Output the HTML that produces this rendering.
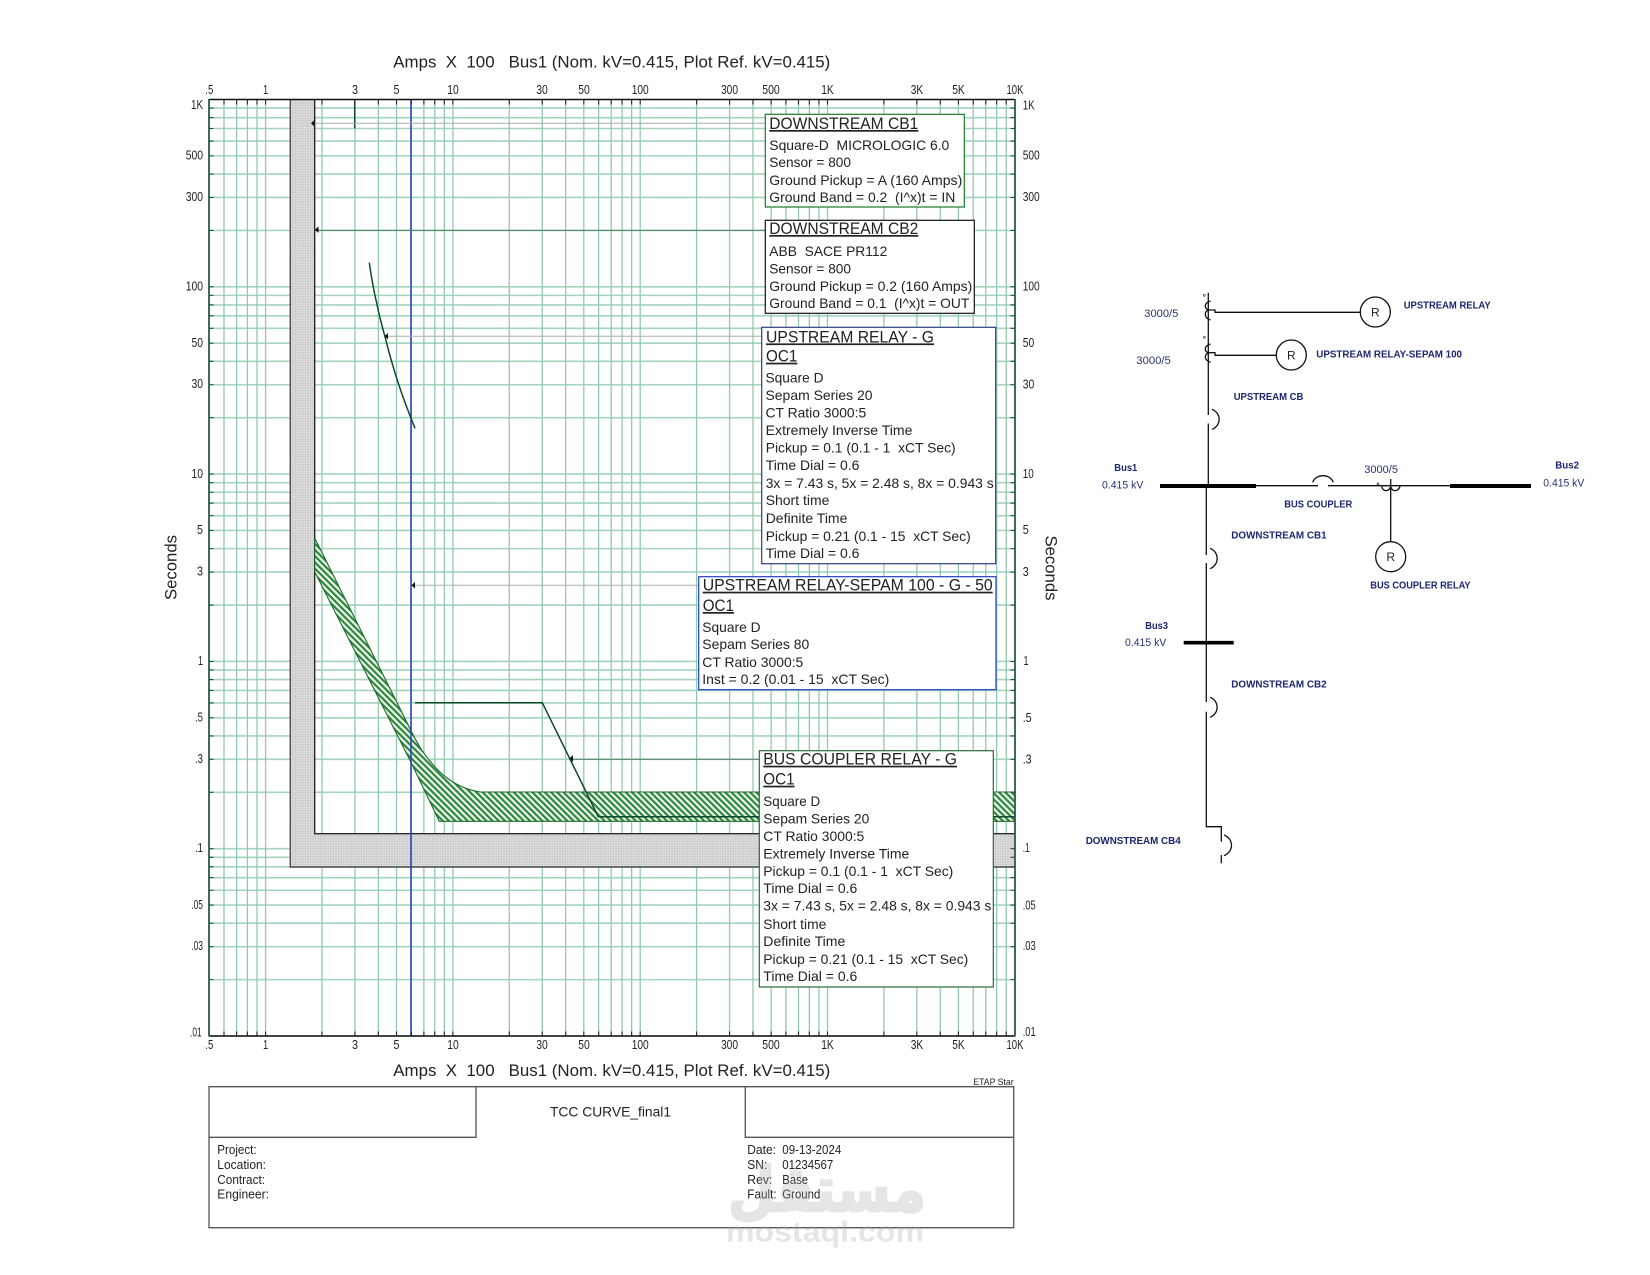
<!DOCTYPE html>
<html lang="en"><head><meta charset="utf-8"><title>TCC Curve</title>
<style>
html,body{margin:0;padding:0;background:#fff}
svg{display:block}
text{font-family:"Liberation Sans",Arial,sans-serif;fill:#222;white-space:pre}
.b{font-size:14px}
.t{font-size:17px;text-decoration:underline}
.h{font-size:17px}
.a{font-size:12.5px}
.am{font-size:12.5px;text-anchor:middle}
.ae{font-size:12.5px;text-anchor:end}
.s{font-size:12.5px}
.n{font-size:10.5px;font-weight:bold;fill:#1c2670}
.r{font-size:11px;fill:#2a3273}
</style></head><body>
<svg width="1650" height="1275" viewBox="0 0 1650 1275" xmlns="http://www.w3.org/2000/svg">
<defs>
<pattern id="gh" width="3.6" height="3.6" patternUnits="userSpaceOnUse" patternTransform="rotate(45)"><rect width="3.6" height="3.6" fill="#dfdfdf"/><rect width="1.8" height="1.8" fill="#c9c9c9"/><rect x="1.8" y="1.8" width="1.8" height="1.8" fill="#c9c9c9"/></pattern>
<pattern id="ht" width="4.4" height="4.4" patternUnits="userSpaceOnUse" patternTransform="rotate(-45)"><rect width="4.4" height="4.4" fill="#e9f4e9"/><rect width="2.1" height="4.4" fill="#2a8439"/></pattern>
<clipPath id="cv"><rect x="205" y="99" width="815" height="5.5"/><rect x="205" y="1031.5" width="815" height="5"/></clipPath>
<clipPath id="ch"><rect x="209" y="95" width="4.5" height="945"/><rect x="1010.5" y="95" width="4.5" height="945"/></clipPath>
<path id="vd" fill="none" d="M0 0V936.5M56.38 0V936.5M89.36 0V936.5M112.77 0V936.5M130.92 0V936.5M145.74 0V936.5M158.29 0V936.5M169.15 0V936.5M178.73 0V936.5"/>
<path id="hd" fill="none" d="M0 0H806M0 -56.38H806M0 -89.36H806M0 -112.77H806M0 -130.92H806M0 -145.74H806M0 -158.29H806M0 -169.15H806M0 -178.73H806"/>
<g id="vg">
<path fill="none" d="M224 99.5V1036M236.6 99.5V1036M247.4 99.5V1036M257 99.5V1036"/>
<use href="#vd" transform="translate(265.6,99.5)"/>
<use href="#vd" transform="translate(452.9,99.5)"/>
<use href="#vd" transform="translate(640.2,99.5)"/>
<use href="#vd" transform="translate(827.5,99.5)"/>
</g>
<g id="hg">
<use href="#hd" transform="translate(209,286.8)"/>
<use href="#hd" transform="translate(209,474.1)"/>
<use href="#hd" transform="translate(209,661.4)"/>
<use href="#hd" transform="translate(209,848.7)"/>
<use href="#hd" transform="translate(209,1036)"/>
</g>
</defs>
<rect width="1650" height="1275" fill="#fff"/>

<text class="h" x="393.3" y="67.3" textLength="437" lengthAdjust="spacingAndGlyphs">Amps  X  100   Bus1 (Nom. kV=0.415, Plot Ref. kV=0.415)</text>
<text class="h" x="393.3" y="1076" textLength="437" lengthAdjust="spacingAndGlyphs">Amps  X  100   Bus1 (Nom. kV=0.415, Plot Ref. kV=0.415)</text>

<!-- grid -->
<use href="#hg" stroke="#a3d4be" stroke-width="1.6"/>
<use href="#vg" stroke="#93c9b0" stroke-width="1.3"/>

<!-- ground band -->
<path d="M290.3 99.5H314.7V833.7H1015V867H290.3Z" fill="url(#gh)"/>
<path d="M290.3 99.5V867H1015" fill="none" stroke="#4a4a4a" stroke-width="1.4"/>
<path d="M314.7 99.5V833.7H1015" fill="none" stroke="#2a2a2a" stroke-width="1.4"/>

<!-- relay band -->
<path d="M314.7 538L410.7 730C418 745 424 755 436 768C448 781 462 789 480 792H1015V821.3H439.3L410.7 761.7L314.7 571.7Z" fill="url(#ht)" stroke="#1d6a2a" stroke-width="1.1"/>

<!-- blue line -->
<path d="M411 99.5V1036" stroke="#2a46c0" stroke-width="1.6" fill="none"/>

<!-- curves -->
<path d="M354.7 100V128.3" stroke="#0f4a2a" stroke-width="1.5" fill="none"/>
<path d="M369.3 262.7C371.5 278 374 292 376.7 303C379 315 382 326 385 336.7C388.5 351 392.5 365 396.7 378.3C402 395 408 411 415 428.3" stroke="#0f4a2a" stroke-width="1.5" fill="none"/>
<path d="M415 702.7H542.3L598.3 816.7H1015" stroke="#0f4a2a" stroke-width="1.5" fill="none"/>

<!-- leaders -->
<path d="M315 123.3H770" stroke="#a9a9a9" stroke-width="1" fill="none"/>
<path d="M316 230.4H770" stroke="#4f7d62" stroke-width="1" fill="none"/>
<path d="M386 336.2H765" stroke="#adadad" stroke-width="1" fill="none"/>
<path d="M412 585.3H700" stroke="#adadad" stroke-width="1" fill="none"/>
<path d="M571 759.3H762" stroke="#4f7d62" stroke-width="1" fill="none"/>
<path d="M311 123.3L314.5 120V126.6Z" fill="#111"/>
<path d="M315 229.7L318.5 226.4V233Z" fill="#111"/>
<path d="M384.5 336.2L388 333V339.4Z" fill="#111"/>
<path d="M411.5 585.3L415 582V588.6Z" fill="#111"/>
<path d="M569.5 758.5L573 755V762Z" fill="#111"/>

<!-- boxes -->
<rect x="765.3" y="114.3" width="199" height="92.7" fill="#fff" stroke="#1c7a2a" stroke-width="1.2"/>
<rect x="765.3" y="220.3" width="209" height="93" fill="#fff" stroke="#111" stroke-width="1.2"/>
<rect x="761.7" y="327.3" width="234" height="236.4" fill="#fff" stroke="#2b3f80" stroke-width="1.2"/>
<rect x="698.7" y="576.7" width="297.3" height="113" fill="#fff" stroke="#2040c0" stroke-width="1.2"/>
<rect x="759.3" y="750.7" width="234" height="236.3" fill="#fff" stroke="#2a6a3a" stroke-width="1.2"/>

<!-- axes -->
<use href="#vg" stroke="#2b2b2b" stroke-width="1.1" clip-path="url(#cv)"/>
<use href="#hg" stroke="#2b4a3c" stroke-width="1.1" clip-path="url(#ch)"/>
<path d="M209 99.5H1015M209 1036H1015" stroke="#111" stroke-width="1.4" fill="none"/>
<path d="M209 99V1036.5M1015 99V1036.5" stroke="#2e5a48" stroke-width="1.8" fill="none"/>

<!-- top x labels -->
<g>
<text class="am" x="209.3" y="94" textLength="8" lengthAdjust="spacingAndGlyphs">.5</text>
<text class="am" x="265.6" y="94" textLength="5" lengthAdjust="spacingAndGlyphs">1</text>
<text class="am" x="355" y="94" textLength="6" lengthAdjust="spacingAndGlyphs">3</text>
<text class="am" x="396.5" y="94" textLength="6" lengthAdjust="spacingAndGlyphs">5</text>
<text class="am" x="453" y="94" textLength="11.5" lengthAdjust="spacingAndGlyphs">10</text>
<text class="am" x="542" y="94" textLength="11.5" lengthAdjust="spacingAndGlyphs">30</text>
<text class="am" x="584" y="94" textLength="11.5" lengthAdjust="spacingAndGlyphs">50</text>
<text class="am" x="640.2" y="94" textLength="17" lengthAdjust="spacingAndGlyphs">100</text>
<text class="am" x="729.5" y="94" textLength="17" lengthAdjust="spacingAndGlyphs">300</text>
<text class="am" x="771" y="94" textLength="17.5" lengthAdjust="spacingAndGlyphs">500</text>
<text class="am" x="827.5" y="94" textLength="12.5" lengthAdjust="spacingAndGlyphs">1K</text>
<text class="am" x="917" y="94" textLength="12.5" lengthAdjust="spacingAndGlyphs">3K</text>
<text class="am" x="958.5" y="94" textLength="12.5" lengthAdjust="spacingAndGlyphs">5K</text>
<text class="am" x="1015" y="94" textLength="17" lengthAdjust="spacingAndGlyphs">10K</text>
</g>
<!-- bottom x labels -->
<g>
<text class="am" x="209.3" y="1049" textLength="8" lengthAdjust="spacingAndGlyphs">.5</text>
<text class="am" x="265.6" y="1049" textLength="5" lengthAdjust="spacingAndGlyphs">1</text>
<text class="am" x="355" y="1049" textLength="6" lengthAdjust="spacingAndGlyphs">3</text>
<text class="am" x="396.5" y="1049" textLength="6" lengthAdjust="spacingAndGlyphs">5</text>
<text class="am" x="453" y="1049" textLength="11.5" lengthAdjust="spacingAndGlyphs">10</text>
<text class="am" x="542" y="1049" textLength="11.5" lengthAdjust="spacingAndGlyphs">30</text>
<text class="am" x="584" y="1049" textLength="11.5" lengthAdjust="spacingAndGlyphs">50</text>
<text class="am" x="640.2" y="1049" textLength="17" lengthAdjust="spacingAndGlyphs">100</text>
<text class="am" x="729.5" y="1049" textLength="17" lengthAdjust="spacingAndGlyphs">300</text>
<text class="am" x="771" y="1049" textLength="17.5" lengthAdjust="spacingAndGlyphs">500</text>
<text class="am" x="827.5" y="1049" textLength="12.5" lengthAdjust="spacingAndGlyphs">1K</text>
<text class="am" x="917" y="1049" textLength="12.5" lengthAdjust="spacingAndGlyphs">3K</text>
<text class="am" x="958.5" y="1049" textLength="12.5" lengthAdjust="spacingAndGlyphs">5K</text>
<text class="am" x="1015" y="1049" textLength="17" lengthAdjust="spacingAndGlyphs">10K</text>
</g>
<!-- left y labels -->
<g>
<text class="ae" x="203" y="109" textLength="12" lengthAdjust="spacingAndGlyphs">1K</text>
<text class="ae" x="203" y="159.4" textLength="17.3" lengthAdjust="spacingAndGlyphs">500</text>
<text class="ae" x="203" y="201" textLength="17.3" lengthAdjust="spacingAndGlyphs">300</text>
<text class="ae" x="203" y="290.3" textLength="17.3" lengthAdjust="spacingAndGlyphs">100</text>
<text class="ae" x="203" y="347" textLength="11.5" lengthAdjust="spacingAndGlyphs">50</text>
<text class="ae" x="203" y="388.2" textLength="11.5" lengthAdjust="spacingAndGlyphs">30</text>
<text class="ae" x="203" y="477.8" textLength="11.5" lengthAdjust="spacingAndGlyphs">10</text>
<text class="ae" x="203" y="534" textLength="6" lengthAdjust="spacingAndGlyphs">5</text>
<text class="ae" x="203" y="575.7" textLength="6" lengthAdjust="spacingAndGlyphs">3</text>
<text class="ae" x="203" y="665" textLength="5" lengthAdjust="spacingAndGlyphs">1</text>
<text class="ae" x="203" y="721.5" textLength="8" lengthAdjust="spacingAndGlyphs">.5</text>
<text class="ae" x="203" y="763" textLength="8" lengthAdjust="spacingAndGlyphs">.3</text>
<text class="ae" x="203" y="852.2" textLength="8" lengthAdjust="spacingAndGlyphs">.1</text>
<text class="ae" x="203" y="909" textLength="11.7" lengthAdjust="spacingAndGlyphs">.05</text>
<text class="ae" x="203" y="950" textLength="11.7" lengthAdjust="spacingAndGlyphs">.03</text>
<text class="ae" x="201.7" y="1036.6" textLength="11.7" lengthAdjust="spacingAndGlyphs">.01</text>
</g>
<!-- right y labels -->
<g>
<text class="a" x="1022.7" y="109.3" textLength="12" lengthAdjust="spacingAndGlyphs">1K</text>
<text class="a" x="1022.7" y="159.4" textLength="17" lengthAdjust="spacingAndGlyphs">500</text>
<text class="a" x="1022.7" y="201.2" textLength="17" lengthAdjust="spacingAndGlyphs">300</text>
<text class="a" x="1022.7" y="290.3" textLength="17" lengthAdjust="spacingAndGlyphs">100</text>
<text class="a" x="1022.7" y="347" textLength="11.5" lengthAdjust="spacingAndGlyphs">50</text>
<text class="a" x="1022.7" y="388.3" textLength="11.5" lengthAdjust="spacingAndGlyphs">30</text>
<text class="a" x="1022.7" y="478.2" textLength="11" lengthAdjust="spacingAndGlyphs">10</text>
<text class="a" x="1022.7" y="534" textLength="6" lengthAdjust="spacingAndGlyphs">5</text>
<text class="a" x="1022.7" y="576" textLength="6" lengthAdjust="spacingAndGlyphs">3</text>
<text class="a" x="1023.5" y="665" textLength="5" lengthAdjust="spacingAndGlyphs">1</text>
<text class="a" x="1022.7" y="722" textLength="9" lengthAdjust="spacingAndGlyphs">.5</text>
<text class="a" x="1022.7" y="763.3" textLength="9" lengthAdjust="spacingAndGlyphs">.3</text>
<text class="a" x="1022.7" y="852" textLength="7" lengthAdjust="spacingAndGlyphs">.1</text>
<text class="a" x="1022.7" y="909.3" textLength="13" lengthAdjust="spacingAndGlyphs">.05</text>
<text class="a" x="1022.7" y="950" textLength="13" lengthAdjust="spacingAndGlyphs">.03</text>
<text class="a" x="1022.7" y="1036" textLength="13" lengthAdjust="spacingAndGlyphs">.01</text>
</g>
<text class="h" text-anchor="middle" transform="translate(176.5,567.5) rotate(-90)" textLength="65" lengthAdjust="spacingAndGlyphs">Seconds</text>
<text class="h" text-anchor="middle" transform="translate(1045.7,568) rotate(90)" textLength="65" lengthAdjust="spacingAndGlyphs">Seconds</text>

<!-- CB1 box -->
<text class="t" x="769.3" y="129" textLength="149" lengthAdjust="spacingAndGlyphs">DOWNSTREAM CB1</text>
<text class="b" x="769.3" y="150" textLength="180" lengthAdjust="spacingAndGlyphs">Square-D  MICROLOGIC 6.0</text>
<text class="b" x="769.3" y="167" textLength="81.7" lengthAdjust="spacingAndGlyphs">Sensor = 800</text>
<text class="b" x="769.3" y="185" textLength="193" lengthAdjust="spacingAndGlyphs">Ground Pickup = A (160 Amps)</text>
<text class="b" x="769.3" y="202" textLength="186" lengthAdjust="spacingAndGlyphs">Ground Band = 0.2  (I^x)t = IN</text>
<!-- CB2 box -->
<text class="t" x="769.3" y="234" textLength="149" lengthAdjust="spacingAndGlyphs">DOWNSTREAM CB2</text>
<text class="b" x="769.3" y="256" textLength="118" lengthAdjust="spacingAndGlyphs">ABB  SACE PR112</text>
<text class="b" x="769.3" y="273.3" textLength="81.7" lengthAdjust="spacingAndGlyphs">Sensor = 800</text>
<text class="b" x="769.3" y="291" textLength="203" lengthAdjust="spacingAndGlyphs">Ground Pickup = 0.2 (160 Amps)</text>
<text class="b" x="769.3" y="308" textLength="200" lengthAdjust="spacingAndGlyphs">Ground Band = 0.1  (I^x)t = OUT</text>
<!-- Upstream relay box -->
<text class="t" x="766" y="342.4" textLength="168" lengthAdjust="spacingAndGlyphs">UPSTREAM RELAY - G</text>
<text class="t" x="766" y="361.7" textLength="31.3" lengthAdjust="spacingAndGlyphs">OC1</text>
<text class="b" x="765.5" y="382.3" textLength="58" lengthAdjust="spacingAndGlyphs">Square D</text>
<text class="b" x="765.5" y="400" textLength="107" lengthAdjust="spacingAndGlyphs">Sepam Series 20</text>
<text class="b" x="765.5" y="417.7" textLength="100.7" lengthAdjust="spacingAndGlyphs">CT Ratio 3000:5</text>
<text class="b" x="765.7" y="435" textLength="146.7" lengthAdjust="spacingAndGlyphs">Extremely Inverse Time</text>
<text class="b" x="765.7" y="452.7" textLength="190" lengthAdjust="spacingAndGlyphs">Pickup = 0.1 (0.1 - 1  xCT Sec)</text>
<text class="b" x="765.7" y="470" textLength="93.7" lengthAdjust="spacingAndGlyphs">Time Dial = 0.6</text>
<text class="b" x="765.7" y="488" textLength="228" lengthAdjust="spacingAndGlyphs">3x = 7.43 s, 5x = 2.48 s, 8x = 0.943 s</text>
<text class="b" x="765.7" y="505" textLength="63.7" lengthAdjust="spacingAndGlyphs">Short time</text>
<text class="b" x="765.7" y="523" textLength="81.7" lengthAdjust="spacingAndGlyphs">Definite Time</text>
<text class="b" x="765.7" y="541" textLength="205" lengthAdjust="spacingAndGlyphs">Pickup = 0.21 (0.1 - 15  xCT Sec)</text>
<text class="b" x="765.7" y="558" textLength="93.7" lengthAdjust="spacingAndGlyphs">Time Dial = 0.6</text>
<!-- Sepam box -->
<text class="t" x="702.7" y="590.7" textLength="290" lengthAdjust="spacingAndGlyphs">UPSTREAM RELAY-SEPAM 100 - G - 50</text>
<text class="t" x="702.7" y="611" textLength="31.3" lengthAdjust="spacingAndGlyphs">OC1</text>
<text class="b" x="702.3" y="632" textLength="58.3" lengthAdjust="spacingAndGlyphs">Square D</text>
<text class="b" x="702.3" y="649" textLength="107" lengthAdjust="spacingAndGlyphs">Sepam Series 80</text>
<text class="b" x="702.3" y="667" textLength="101" lengthAdjust="spacingAndGlyphs">CT Ratio 3000:5</text>
<text class="b" x="702.3" y="684" textLength="187" lengthAdjust="spacingAndGlyphs">Inst = 0.2 (0.01 - 15  xCT Sec)</text>
<!-- Bus coupler box -->
<text class="t" x="763.3" y="764.7" textLength="193.7" lengthAdjust="spacingAndGlyphs">BUS COUPLER RELAY - G</text>
<text class="t" x="763.3" y="784.7" textLength="31.3" lengthAdjust="spacingAndGlyphs">OC1</text>
<text class="b" x="763.3" y="806" textLength="57" lengthAdjust="spacingAndGlyphs">Square D</text>
<text class="b" x="763.3" y="823.3" textLength="106" lengthAdjust="spacingAndGlyphs">Sepam Series 20</text>
<text class="b" x="763.3" y="841" textLength="101" lengthAdjust="spacingAndGlyphs">CT Ratio 3000:5</text>
<text class="b" x="763.3" y="858.3" textLength="146" lengthAdjust="spacingAndGlyphs">Extremely Inverse Time</text>
<text class="b" x="763.3" y="876" textLength="190" lengthAdjust="spacingAndGlyphs">Pickup = 0.1 (0.1 - 1  xCT Sec)</text>
<text class="b" x="763.3" y="893" textLength="94" lengthAdjust="spacingAndGlyphs">Time Dial = 0.6</text>
<text class="b" x="763.3" y="910.7" textLength="228" lengthAdjust="spacingAndGlyphs">3x = 7.43 s, 5x = 2.48 s, 8x = 0.943 s</text>
<text class="b" x="763.3" y="929" textLength="63" lengthAdjust="spacingAndGlyphs">Short time</text>
<text class="b" x="763.3" y="946" textLength="82" lengthAdjust="spacingAndGlyphs">Definite Time</text>
<text class="b" x="763.3" y="964" textLength="205" lengthAdjust="spacingAndGlyphs">Pickup = 0.21 (0.1 - 15  xCT Sec)</text>
<text class="b" x="763.3" y="981" textLength="94" lengthAdjust="spacingAndGlyphs">Time Dial = 0.6</text>

<!-- title block -->
<path d="M209 1086.7H1013.7V1227.7H209ZM209 1137.3H476V1086.7M745.3 1086.7V1137.3H1013.7" fill="none" stroke="#555" stroke-width="1.3"/>
<text style="font-size:9.5px" x="973.3" y="1085" textLength="40.3" lengthAdjust="spacingAndGlyphs">ETAP Star</text>
<text style="font-size:14px" x="550" y="1116.7" textLength="121" lengthAdjust="spacingAndGlyphs">TCC CURVE_final1</text>
<text class="s" x="217.3" y="1154" textLength="39.3" lengthAdjust="spacingAndGlyphs">Project:</text>
<text class="s" x="217.3" y="1169" textLength="48.7" lengthAdjust="spacingAndGlyphs">Location:</text>
<text class="s" x="217.3" y="1184" textLength="47.7" lengthAdjust="spacingAndGlyphs">Contract:</text>
<text class="s" x="217.3" y="1198.3" textLength="51.7" lengthAdjust="spacingAndGlyphs">Engineer:</text>
<text class="s" x="747.3" y="1154" textLength="28.7" lengthAdjust="spacingAndGlyphs">Date:</text>
<text class="s" x="747.3" y="1169" textLength="20" lengthAdjust="spacingAndGlyphs">SN:</text>
<text class="s" x="747.3" y="1184" textLength="25" lengthAdjust="spacingAndGlyphs">Rev:</text>
<text class="s" x="747.3" y="1198.3" textLength="29.3" lengthAdjust="spacingAndGlyphs">Fault:</text>
<text class="s" x="782.3" y="1154" textLength="59" lengthAdjust="spacingAndGlyphs">09-13-2024</text>
<text class="s" x="782.3" y="1169" textLength="51" lengthAdjust="spacingAndGlyphs">01234567</text>
<text class="s" x="782.3" y="1184" textLength="25.7" lengthAdjust="spacingAndGlyphs">Base</text>
<text class="s" x="782.3" y="1198.3" textLength="38" lengthAdjust="spacingAndGlyphs">Ground</text>

<!-- watermark -->
<g opacity=".3">
<text x="926" y="1211" direction="rtl" style="font-family:'DejaVu Sans',sans-serif;font-weight:bold;font-size:62px;fill:#aaa;stroke:#aaa;stroke-width:2.5px" textLength="198" lengthAdjust="spacingAndGlyphs">مستقل</text>
<text x="726" y="1241.7" style="font-weight:bold;font-size:29px;fill:#aaa" textLength="198" lengthAdjust="spacingAndGlyphs">mostaql.com</text>
</g>

<!-- single line diagram -->
<g fill="none" stroke="#111" stroke-width="1.3">
<path d="M1208.3 292.7V486"/>
<path d="M1206.3 486V826.7H1221.3V863.3"/>
<path d="M1256 485.7H1450"/>
<path d="M1390.7 479V542"/>
<path d="M1208.3 310H1215V312.3H1360.3"/>
<path d="M1208.3 352.7H1215V355.3H1276.3"/>
<circle cx="1375.3" cy="312" r="15"/>
<circle cx="1291.3" cy="355" r="15"/>
<circle cx="1390.7" cy="556.7" r="15"/>
<path d="M1210.5 301C1204 303 1204 308 1208.3 310C1204 312 1204 318 1210.5 320"/>
<path d="M1210.5 344C1204 346 1204 351 1208.3 353C1204 355 1204 360 1210.5 362.3"/>
<path d="M1381.7 486.5C1383 492 1389 492 1390.7 486.5C1392 492 1398 492 1400 486.5"/>
</g>
<path d="M1160 486H1256M1450 486H1531" stroke="#000" stroke-width="4" fill="none"/>
<path d="M1183.7 642.7H1233.7" stroke="#000" stroke-width="3.7" fill="none"/>
<!-- CB gaps -->
<rect x="1204" y="415" width="8" height="8.5" fill="#fff"/>
<rect x="1202" y="555" width="8" height="8" fill="#fff"/>
<rect x="1202" y="702" width="8" height="9.7" fill="#fff"/>
<rect x="1217" y="841.7" width="8" height="13.3" fill="#fff"/>
<rect x="1318" y="481" width="10" height="9" fill="#fff"/>
<g fill="none" stroke="#111" stroke-width="1.3">
<path d="M1212 409.3C1221.5 413 1221.5 425.5 1212 429.3"/>
<path d="M1210 548.3C1219.5 552 1219.5 565 1210 568.7"/>
<path d="M1210 697.3C1219.5 701 1219.5 713.5 1210 717.3"/>
<path d="M1224 835C1234 839 1234 851.5 1224 855.7"/>
<path d="M1312.7 482.3C1316 473.5 1330 473.5 1333.3 482.3"/>
</g>
<circle cx="1204.3" cy="295.3" r="1" fill="none" stroke="#333" stroke-width=".7"/>
<circle cx="1204.3" cy="337.3" r="1" fill="none" stroke="#333" stroke-width=".7"/>
<circle cx="1378" cy="484" r="1" fill="none" stroke="#333" stroke-width=".7"/>
<text style="font-size:12px" text-anchor="middle" x="1375.3" y="316.3">R</text>
<text style="font-size:12px" text-anchor="middle" x="1291.3" y="359.3">R</text>
<text style="font-size:12px" text-anchor="middle" x="1390.7" y="561">R</text>

<text class="n" x="1403.7" y="308.7" textLength="87" lengthAdjust="spacingAndGlyphs">UPSTREAM RELAY</text>
<text class="n" x="1316.3" y="357.7" textLength="145.7" lengthAdjust="spacingAndGlyphs">UPSTREAM RELAY-SEPAM 100</text>
<text class="n" x="1233.7" y="400" textLength="69.7" lengthAdjust="spacingAndGlyphs">UPSTREAM CB</text>
<text class="r" x="1144.3" y="317" textLength="34" lengthAdjust="spacingAndGlyphs">3000/5</text>
<text class="r" x="1136.3" y="364" textLength="34.5" lengthAdjust="spacingAndGlyphs">3000/5</text>
<text class="r" x="1364.3" y="473" textLength="33.7" lengthAdjust="spacingAndGlyphs">3000/5</text>
<text class="n" x="1114.3" y="471" textLength="23" lengthAdjust="spacingAndGlyphs">Bus1</text>
<text class="r" x="1102" y="488.3" textLength="41.3" lengthAdjust="spacingAndGlyphs">0.415 kV</text>
<text class="n" x="1284.3" y="507.7" textLength="68" lengthAdjust="spacingAndGlyphs">BUS COUPLER</text>
<text class="n" x="1231.3" y="538.7" textLength="95.3" lengthAdjust="spacingAndGlyphs">DOWNSTREAM CB1</text>
<text class="n" x="1370.3" y="588.7" textLength="100.3" lengthAdjust="spacingAndGlyphs">BUS COUPLER RELAY</text>
<text class="n" x="1555.3" y="468.7" textLength="23.7" lengthAdjust="spacingAndGlyphs">Bus2</text>
<text class="r" x="1543.3" y="486.7" textLength="41" lengthAdjust="spacingAndGlyphs">0.415 kV</text>
<text class="n" x="1145.3" y="629" textLength="22.7" lengthAdjust="spacingAndGlyphs">Bus3</text>
<text class="r" x="1125" y="646" textLength="41.3" lengthAdjust="spacingAndGlyphs">0.415 kV</text>
<text class="n" x="1231.3" y="687.7" textLength="95.3" lengthAdjust="spacingAndGlyphs">DOWNSTREAM CB2</text>
<text class="n" x="1085.7" y="844" textLength="95" lengthAdjust="spacingAndGlyphs">DOWNSTREAM CB4</text>
</svg>
</body></html>
